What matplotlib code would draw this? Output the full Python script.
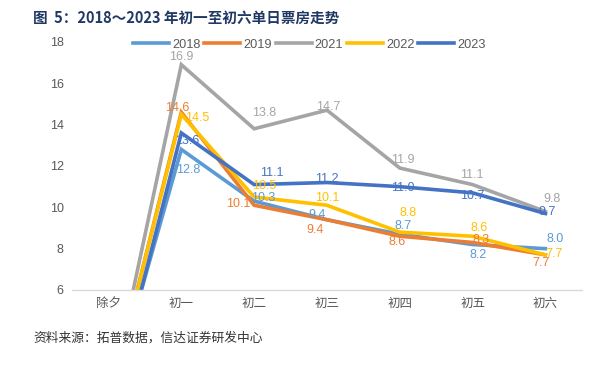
import matplotlib
matplotlib.use("Agg")
import matplotlib.pyplot as plt

plt.rcParams["font.family"] = ["Liberation Sans", "Noto Sans CJK SC", "DejaVu Sans"]

days = ["除夕", "初一", "初二", "初三", "初四", "初五", "初六"]
years = ["2018", "2019", "2021", "2022", "2023"]

# 除夕 values sit below the axis floor; estimated from where the lines enter
box_2018 = [0.4, 12.8, 10.3, 9.4, 8.7, 8.2, 8.0]
box_2019 = [0.4, 14.6, 10.1, 9.4, 8.6, 8.3, 7.7]
box_2021 = [0.4, 16.9, 13.8, 14.7, 11.9, 11.1, 9.8]
box_2022 = [0.4, 14.5, 10.5, 10.1, 8.8, 8.6, 7.7]
box_2023 = [-0.2, 13.6, 11.1, 11.2, 11.0, 10.7, 9.7]
series = [box_2018, box_2019, box_2021, box_2022, box_2023]

colors = ["#5B9BD5", "#ED7D31", "#A5A5A5", "#FFC000", "#4472C4"]

# label offsets in pixels (dx, dy) for 初一..初六, per series
label_offsets = [
    [(7, -21), (9, 3), (-10, 5), (3, 8), (6, -10), (10, 10)],
    [(-4, 4), (-16, 1), (-12, -10), (-3, -6), (9, 2), (-4, -8)],
    [(0, 8), (10, 16), (1, 3), (3, 8), (-1, 10), (7, 12)],
    [(16, -4), (10, 11), (0, 7), (8, 19), (7, 8), (9, 1)],
    [(6, -8), (18, 12), (0, 4), (3, -1), (0, -3), (2, 2)],
]

fig = plt.figure(figsize=(6.01, 3.65), dpi=100)
ax = fig.add_axes([0.12, 0.2055, 0.848, 0.6795])

x = list(range(len(days)))
for name, vals, color, offs in zip(years, series, colors, label_offsets):
    ax.plot(x, vals, color=color, linewidth=2.6, label=name, solid_joinstyle="miter")
    for i in range(1, len(days)):
        dx, dy = offs[i - 1]
        ax.annotate(f"{vals[i]:.1f}", (x[i], vals[i]), xytext=(dx, dy),
                    textcoords="offset pixels", ha="center", va="center",
                    fontsize=9, color=color)

ax.set_xlim(-0.5, 6.5)
ax.set_ylim(6, 18)
ax.set_yticks(range(6, 19, 2))
ax.set_xticks(x)
ax.set_xticklabels(days, fontsize=9, color="#595959", family=["Noto Sans CJK SC"])
ax.tick_params(axis="y", length=0, pad=6, labelsize=9, labelcolor="#595959")
ax.tick_params(axis="x", length=0, pad=5)
for side in ["top", "right", "left"]:
    ax.spines[side].set_visible(False)
ax.spines["bottom"].set_color("#D9D9D9")
ax.spines["bottom"].set_linewidth(1.0)

leg = fig.legend(loc="center", bbox_to_anchor=(0.515, 0.877), ncol=5, frameon=False,
                 fontsize=9.2, handlelength=2.8, handletextpad=0.25, columnspacing=0.3)
for t in leg.get_texts():
    t.set_color("#595959")

fig.text(0.055, 0.95, "图  5：2018～2023 年初一至初六单日票房走势", fontsize=10.5,
         fontweight="bold", color="#203864", va="center", ha="left",
         family=["Noto Sans CJK SC", "DejaVu Sans"])
fig.text(0.055, 0.074, "资料来源：拓普数据，信达证券研发中心", fontsize=9.2,
         color="#333333", va="center", ha="left", family=["Noto Sans CJK SC"])

fig.savefig("out.png", dpi=100)
